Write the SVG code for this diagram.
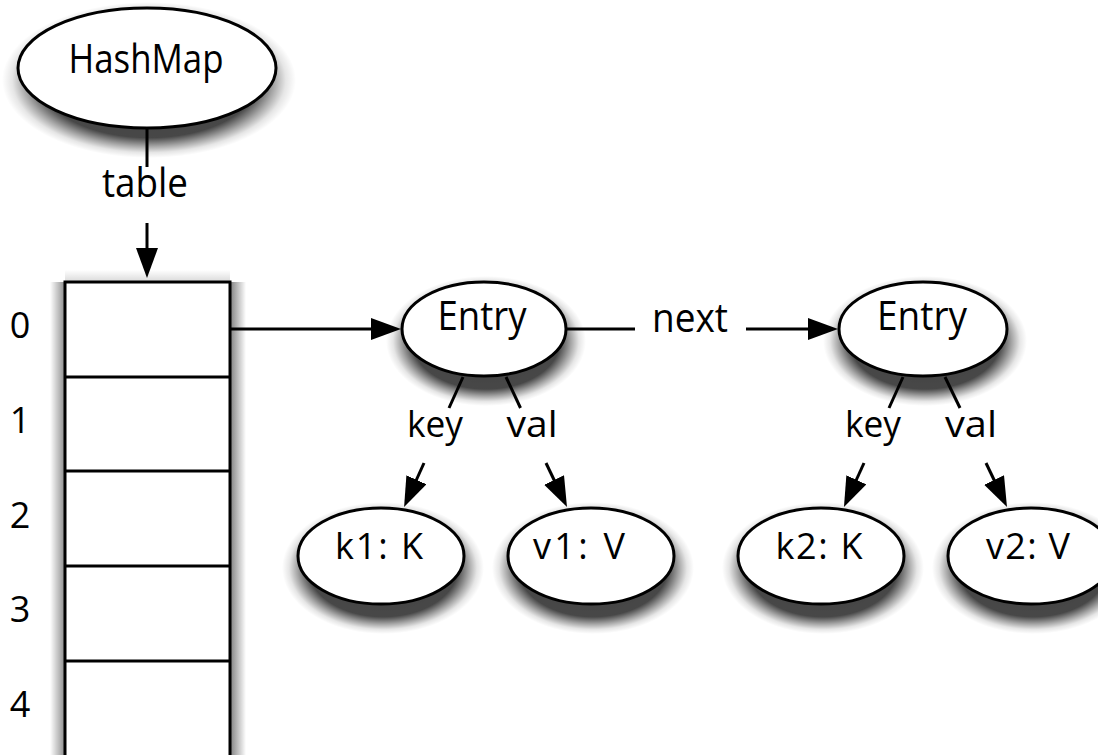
<svg xmlns="http://www.w3.org/2000/svg" width="1098" height="755" viewBox="0 0 1098 755">
  <defs>
    <radialGradient id="shadeRound" cx="50%" cy="50%" r="50%">
      <stop offset="0" stop-color="#000" stop-opacity="0.75"/>
      <stop offset="0.74" stop-color="#000" stop-opacity="0.72"/>
      <stop offset="0.85" stop-color="#000" stop-opacity="0.35"/>
      <stop offset="0.93" stop-color="#000" stop-opacity="0.1"/>
      <stop offset="1" stop-color="#000" stop-opacity="0"/>
    </radialGradient>
    <linearGradient id="shadeLeft" x1="1" y1="0" x2="0" y2="0">
      <stop offset="0" stop-color="#000" stop-opacity="0.45"/>
      <stop offset="1" stop-color="#000" stop-opacity="0"/>
    </linearGradient>
    <linearGradient id="shadeRight" x1="0" y1="0" x2="1" y2="0">
      <stop offset="0" stop-color="#000" stop-opacity="0.5"/>
      <stop offset="1" stop-color="#000" stop-opacity="0"/>
    </linearGradient>
    <linearGradient id="shadeTop" x1="0" y1="1" x2="0" y2="0">
      <stop offset="0" stop-color="#000" stop-opacity="0.15"/>
      <stop offset="1" stop-color="#000" stop-opacity="0"/>
    </linearGradient>
    <marker id="arrow" markerUnits="userSpaceOnUse" markerWidth="32" markerHeight="24" refX="20" refY="11" orient="auto">
      <path d="M0,0 L30,11 L0,22 z" fill="#000"/>
    </marker>
  </defs>
  <style>
    .node { fill: #fff; stroke: #000; stroke-width: 3; }
    .shade { fill: url(#shadeRound); stroke: none; }
    .edge { stroke: #000; stroke-width: 3; fill: none; }
    .lbl { font-family: "Open Sans", "DejaVu Sans", sans-serif; fill: #000; stroke: none; text-anchor: middle; }
    .big { font-size: 40px; }
    .mid { font-size: 36px; }
    .idx { font-size: 36px; }
  </style>
  <rect width="1098" height="755" fill="#fff"/>

  <!-- soft drop shadows under the shapes -->
  <g id="shadows">
    <rect x="50" y="282" width="15" height="480" fill="url(#shadeLeft)"/>
    <rect x="230" y="282" width="16" height="480" fill="url(#shadeRight)"/>
    <rect x="65" y="270" width="165" height="12" fill="url(#shadeTop)"/>
    <ellipse class="shade" cx="149" cy="80" rx="147" ry="78"/>
    <ellipse class="shade" cx="486" cy="341" rx="100" ry="65"/>
    <ellipse class="shade" cx="925" cy="341" rx="102" ry="65"/>
    <ellipse class="shade" cx="383" cy="568" rx="101" ry="66"/>
    <ellipse class="shade" cx="593" cy="568" rx="101" ry="66"/>
    <ellipse class="shade" cx="823" cy="568" rx="101" ry="66"/>
    <ellipse class="shade" cx="1033" cy="568" rx="101" ry="66"/>
  </g>

  <!-- hash table array -->
  <g id="table-array">
    <rect class="node" x="65" y="282" width="165" height="500"/>
    <g class="edge">
      <line x1="65" y1="377" x2="230" y2="377"/>
      <line x1="65" y1="471" x2="230" y2="471"/>
      <line x1="65" y1="566" x2="230" y2="566"/>
      <line x1="65" y1="661" x2="230" y2="661"/>
    </g>
    <text class="lbl idx" x="20" y="338">0</text>
    <text class="lbl idx" x="20" y="433">1</text>
    <text class="lbl idx" x="20" y="528">2</text>
    <text class="lbl idx" x="20" y="622">3</text>
    <text class="lbl idx" x="20" y="717">4</text>
  </g>

  <!-- connectors -->
  <g id="connectors" class="edge">
    <line x1="147" y1="128" x2="147" y2="167"/>
    <line x1="147" y1="223" x2="147" y2="268" marker-end="url(#arrow)"/>
    <text class="lbl big" x="145" y="197" textLength="86" lengthAdjust="spacingAndGlyphs">table</text>

    <line x1="231" y1="329" x2="391" y2="329" marker-end="url(#arrow)"/>

    <line x1="566" y1="329" x2="635" y2="329"/>
    <line x1="746" y1="329" x2="828" y2="329" marker-end="url(#arrow)"/>
    <text class="lbl big" x="690" y="332" textLength="76" lengthAdjust="spacingAndGlyphs">next</text>

    <line x1="463" y1="377" x2="449" y2="408"/>
    <line x1="424" y1="463" x2="408.2" y2="498" marker-end="url(#arrow)"/>
    <text class="lbl mid" x="435" y="437" textLength="56" lengthAdjust="spacingAndGlyphs">key</text>
    <line x1="506" y1="377" x2="520.5" y2="408"/>
    <line x1="546" y1="463" x2="562.7" y2="498" marker-end="url(#arrow)"/>
    <text class="lbl mid" x="532" y="437" textLength="51" lengthAdjust="spacingAndGlyphs">val</text>

    <line x1="903" y1="377" x2="889" y2="408"/>
    <line x1="864" y1="463" x2="848.1" y2="498" marker-end="url(#arrow)"/>
    <text class="lbl mid" x="873" y="437" textLength="56" lengthAdjust="spacingAndGlyphs">key</text>
    <line x1="945" y1="377" x2="960" y2="408"/>
    <line x1="986" y1="463" x2="1002.7" y2="498" marker-end="url(#arrow)"/>
    <text class="lbl mid" x="971" y="437" textLength="52" lengthAdjust="spacingAndGlyphs">val</text>
  </g>

  <g id="hashmap">
    <ellipse class="node" cx="147" cy="68" rx="129" ry="60"/>
    <text class="lbl big" x="146" y="73" textLength="155" lengthAdjust="spacingAndGlyphs">HashMap</text>
  </g>

  <g id="entry1">
    <ellipse class="node" cx="484" cy="329" rx="82" ry="47"/>
    <text class="lbl big" x="482" y="330" textLength="89" lengthAdjust="spacingAndGlyphs">Entry</text>
  </g>

  <g id="entry2">
    <ellipse class="node" cx="923" cy="329" rx="84" ry="47"/>
    <text class="lbl big" x="922" y="330" textLength="90" lengthAdjust="spacingAndGlyphs">Entry</text>
  </g>

  <g id="k1">
    <ellipse class="node" cx="381" cy="556" rx="83" ry="48"/>
    <text class="lbl mid" x="379" y="559" textLength="88" lengthAdjust="spacing">k1: K</text>
  </g>

  <g id="v1">
    <ellipse class="node" cx="591" cy="556" rx="83" ry="48"/>
    <text class="lbl mid" x="579" y="559" textLength="92" lengthAdjust="spacing">v1: V</text>
  </g>

  <g id="k2">
    <ellipse class="node" cx="821" cy="556" rx="83" ry="48"/>
    <text class="lbl mid" x="819" y="559" textLength="87" lengthAdjust="spacing">k2: K</text>
  </g>

  <g id="v2">
    <ellipse class="node" cx="1031" cy="556" rx="83" ry="48"/>
    <text class="lbl mid" x="1028" y="559" textLength="84" lengthAdjust="spacing">v2: V</text>
  </g>
</svg>
